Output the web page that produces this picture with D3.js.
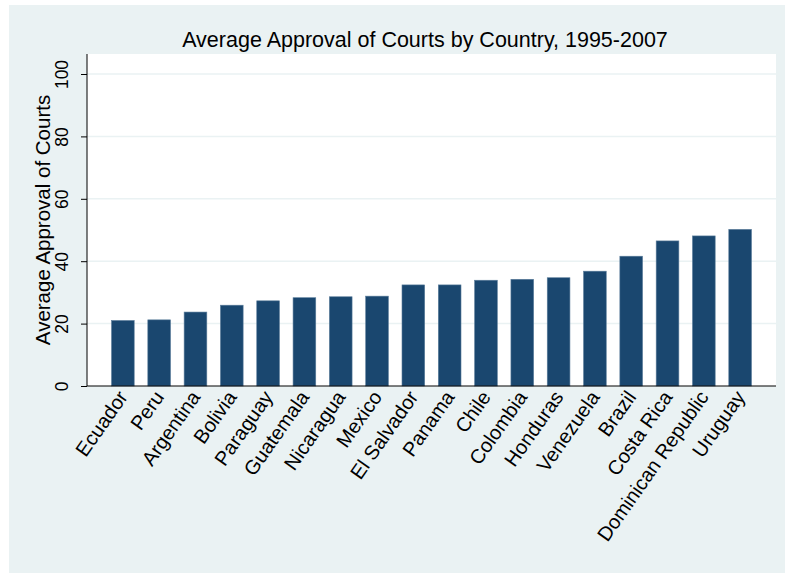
<!DOCTYPE html>
<html>
<head>
<meta charset="utf-8">
<script src="https://cdn.jsdelivr.net/npm/d3@7"></script>
<style>
  body { margin: 0; background: #fff; }
  text { font-family: "Liberation Sans", Arial, sans-serif; fill: #000; }
</style>
</head>
<body>
<script>
// data
var countries = ["Ecuador", "Peru", "Argentina", "Bolivia", "Paraguay", "Guatemala",
  "Nicaragua", "Mexico", "El Salvador", "Panama", "Chile", "Colombia", "Honduras",
  "Venezuela", "Brazil", "Costa Rica", "Dominican Republic", "Uruguay"];
var approval = [21.0, 21.2, 23.7, 25.9, 27.3, 28.3, 28.6, 28.8, 32.4, 32.4,
  33.9, 34.2, 34.7, 36.8, 41.6, 46.5, 48.1, 50.2];
var yTicks = [0, 20, 40, 60, 80, 100];

var width = 785, height = 573;
var plot = { left: 87, right: 776, top: 54, bottom: 386 };

var svg = d3.select('body').append('svg')
  .attr('width', width)
  .attr('height', height);

// outer background
svg.append('rect')
  .attr('x', 9).attr('y', 5)
  .attr('width', width - 9).attr('height', height - 5)
  .attr('fill', '#eaf2f3');

// plot region
svg.append('rect')
  .attr('x', plot.left).attr('y', plot.top)
  .attr('width', plot.right - plot.left).attr('height', plot.bottom - plot.top)
  .attr('fill', '#fff');

var x = d3.scaleBand()
  .domain(countries)
  .range([plot.left, plot.right])
  .paddingInner(0.375)
  .paddingOuter(0.675);

var y = d3.scaleLinear()
  .domain([0, 100])
  .range([plot.bottom, 74]);

// grid lines
svg.append('g')
  .selectAll('line')
  .data(yTicks.filter(function(d) { return d > 0; }))
  .enter().append('line')
  .attr('x1', plot.left).attr('x2', plot.right)
  .attr('y1', function(d) { return y(d); })
  .attr('y2', function(d) { return y(d); })
  .attr('stroke', '#eaf2f3')
  .attr('stroke-width', 1.5);

// bars
svg.append('g')
  .selectAll('rect')
  .data(approval)
  .enter().append('rect')
  .attr('x', function(d, i) { return x(countries[i]); })
  .attr('y', function(d) { return y(d); })
  .attr('width', x.bandwidth())
  .attr('height', function(d) { return y(0) - y(d); })
  .attr('fill', '#1a476f')
  .attr('stroke', '#5b7d9b')
  .attr('stroke-width', 0.6);

// y axis
var yAxis = svg.append('g')
  .attr('transform', 'translate(' + plot.left + ',0)')
  .call(d3.axisLeft(y).tickValues(yTicks).tickSize(6).tickPadding(5));
yAxis.select('.domain')
  .attr('d', 'M0,' + plot.top + 'V' + plot.bottom)
  .attr('stroke', '#000');
yAxis.selectAll('.tick line').attr('stroke', '#000');
yAxis.selectAll('.tick text')
  .attr('font-size', 17.5)
  .attr('font-family', '"Liberation Sans", Arial, sans-serif')
  .attr('text-anchor', 'middle')
  .attr('dy', 0)
  .attr('x', 0)
  .attr('transform', 'translate(-19,0) rotate(-90)');

// x axis line
svg.append('line')
  .attr('x1', plot.left).attr('x2', plot.right)
  .attr('y1', plot.bottom).attr('y2', plot.bottom)
  .attr('stroke', '#000');

// x labels
svg.append('g')
  .selectAll('text')
  .data(countries)
  .enter().append('text')
  .attr('transform', function(d) {
    return 'translate(' + (x(d) + x.bandwidth() / 2) + ',' + (plot.bottom + 7) + ') rotate(-55)';
  })
  .attr('text-anchor', 'end')
  .attr('dy', '0.35em')
  .attr('font-size', 20)
  .text(function(d) { return d; });

// y axis title
svg.append('text')
  .attr('transform', 'translate(50,' + ((plot.top + plot.bottom) / 2) + ') rotate(-90)')
  .attr('text-anchor', 'middle')
  .attr('font-size', 20.5)
  .text('Average Approval of Courts');

// title
svg.append('text')
  .attr('x', 425)
  .attr('y', 47)
  .attr('text-anchor', 'middle')
  .attr('font-size', 21.5)
  .text('Average Approval of Courts by Country, 1995-2007');
</script>
</body>
</html>
